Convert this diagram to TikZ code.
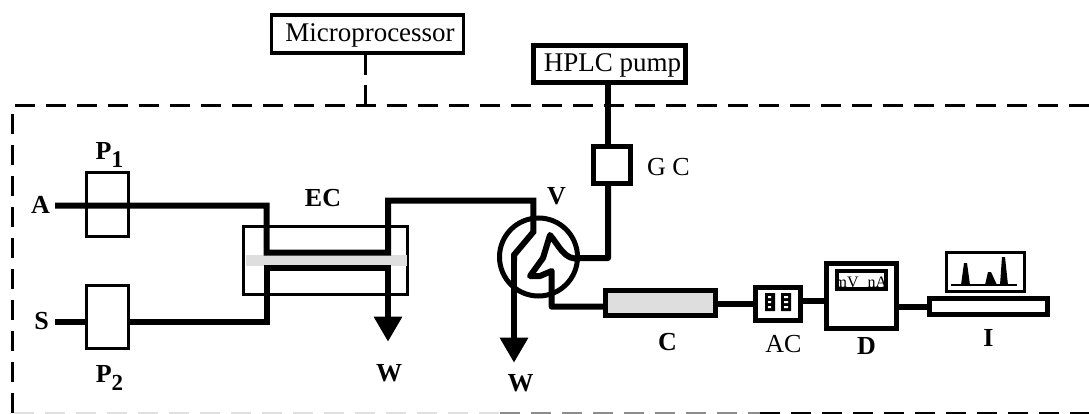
\documentclass[tikz,border=0pt]{standalone}
\usepackage{fontspec}
\setmainfont{Liberation Serif}
\usetikzlibrary{arrows.meta,positioning}

\begin{document}
\begin{tikzpicture}[x=1pt,y=-1pt,node distance = 4pt and 4pt,
    box/.style={rectangle,inner sep=0pt,draw=black,line width=3pt,fill=white},
    thickbox/.style={box,line width=5pt},
    pumpbox/.style={box,minimum width=42pt,minimum height=63pt},
    txt/.style={inner sep=0pt,font=\fontsize{26}{28}\selectfont},
    boxtxt/.style={font=\fontsize{27}{29}\selectfont,text height=20pt,text depth=4pt},
    lab/.style={inner sep=0pt,font=\fontsize{26}{28}\selectfont\bfseries},
    tube/.style={line width=6pt,line join=miter},
    sig/.style={line width=3pt,dash pattern=on 20pt off 11pt},
    drain/.style={line width=6pt,-{Triangle[width=27pt,length=25pt]}},
   ]
    \useasboundingbox (0,0) rectangle (1089,414);

    \node (micro) [box,boxtxt,line width=3.5pt,minimum width=192pt,minimum height=38pt] at (367.5,34) {\hspace*{5pt}Microprocessor};
    \node (hplc) [thickbox,boxtxt,minimum width=152pt,minimum height=37pt] at (609.5,64) {\hspace*{6pt}HPLC pump};
    \node (gc) [thickbox,minimum width=37pt,minimum height=37pt] at (612,165) {};
    \node (gclab) [txt,anchor=west] at (647,167) {G C};

    \coordinate (frame_tr) at (1089,105.5);
    \coordinate (frame_tl) at (12.7,105.5);
    \coordinate (frame_bl) at (12.7,414);
    \coordinate (frame_link) at (365,105.5);
    \coordinate (bottom_a) at (14,413.5);
    \coordinate (bottom_b) at (500,413.5);
    \coordinate (bottom_c) at (760,413.5);
    \coordinate (bottom_d) at (1089,413.5);
    \draw[sig] (frame_tr) -- (frame_tl) -- (frame_bl);
    \draw[sig,black!12] (bottom_a) -- (bottom_b);
    \draw[sig,black!45] (bottom_b) -- (bottom_c);
    \draw[sig] (bottom_c) -- (bottom_d);
    \draw[sig,dash pattern=on 20pt off 10pt] (micro.south -| frame_link) -- (frame_link);

    \node (p1) [pumpbox] at (107.5,204.5) {};
    \node (p2) [pumpbox] at (107.5,316.5) {};
    \node (p1lab) [lab,above=of p1,xshift=2pt] {P\raisebox{-8pt}{\fontsize{24}{26}\selectfont 1}};
    \node (p2lab) [lab,below=16pt of p2,xshift=2pt] {P\raisebox{-8pt}{\fontsize{23}{25}\selectfont 2}};

    \node (a) [lab,anchor=east] at (50,205) {A};
    \node (s) [lab,anchor=east] at (49,321) {S};
    \coordinate (a_out) at (55,205.7);
    \coordinate (s_out) at (55,321.7);

    \node (ec) [box,minimum width=164pt,minimum height=68pt] at (325.5,260.5) {};
    \fill[black!13] (246,255) rectangle (407,266);
    \node (eclab) [lab,above=18pt of ec,xshift=-2.5pt] {EC};

    \coordinate (ec_tl) at (266.7,252.7);
    \coordinate (ec_tr) at (388,252.7);
    \coordinate (ec_bl) at (266.7,267.7);
    \coordinate (ec_br) at (388,267.7);
    \coordinate (ec_w) at (388,341.7);
    \node (w1) [lab] at (389,373) {W};

    \node (valve) [circle,draw=black,line width=5pt,inner sep=0pt,minimum size=78pt] at (538.5,257) {};
    \node (vlab) [lab] at (556.5,196) {V};
    \coordinate (v_in) at (533.3,200.7);
    \coordinate (v_a) at (533.3,232);
    \coordinate (v_b) at (514,255);
    \coordinate (v_w) at (514,362.7);
    \node (w2) [lab] at (520.5,383) {W};

    \coordinate (v_right) at (580,258);
    \coordinate (gc_line) at (608,258);
    \coordinate (v_peak) at (550,235);
    \coordinate (v_mid) at (543,258);
    \coordinate (v_tip) at (530,276);
    \coordinate (v_tipb) at (540,276);
    \coordinate (v_peakb) at (551.7,271);
    \coordinate (v_low) at (551.7,306.7);

    \node (col) [thickbox,fill=black!13,minimum width=110pt,minimum height=25pt] at (660.5,303) {};
    \node (collab) [lab,below=15pt of col,xshift=7pt] {C};

    \node (ac) [thickbox,minimum width=45pt,minimum height=33pt] at (778,304) {};
    \fill[black] (765,293) rectangle (775,311) (781,293) rectangle (791,311);
    \fill[white] (768,296) rectangle (771,298) (768,301) rectangle (771,303) (768,306) rectangle (771,308);
    \fill[white] (784,296) rectangle (788,298) (784,301) rectangle (788,303) (784,306) rectangle (788,308);
    \node (aclab) [txt,below=12pt of ac,xshift=5.5pt] {AC};

    \node (det) [thickbox,minimum width=70pt,minimum height=65pt] at (861.5,296) {};
    \node (meter) [box,line width=4pt,minimum width=49pt,minimum height=18pt] at (861.5,280) {};
    \node (meterlab) [inner sep=0pt,anchor=base,font=\fontsize{16}{17}\selectfont] at (861,287) {mV\hspace{9pt}nA};
    \node (detlab) [lab,below=6pt of det,xshift=5pt] {D};

    \node (integ) [thickbox,minimum width=118pt,minimum height=16pt] at (988.5,306.5) {};
    \node (screen) [box,minimum width=78pt,minimum height=39pt] at (985.5,272) {};
    \node (integlab) [lab,below=12pt of integ] {I};
    \draw[line width=2.5pt] (951,285) -- (1017,285);
    \fill (961,285) -- (964,263) -- (967,263) -- (970,285) -- cycle;
    \fill (985,285) -- (988,272) -- (991,272) -- (997,285) -- cycle;
    \fill (1000,285) -- (1002,257) -- (1005,257) -- (1008,285) -- cycle;

    \draw[tube] (a_out) -- (ec_tl |- a_out) -- (ec_tl) -- (ec_tr) -- (ec_tr |- v_in) -- (v_in) -- (v_a) -- (v_b) -- ++(0,6);
    \draw[drain] (v_b) -- (v_w);
    \draw[tube] (s_out) -- (p2.west |- s_out);
    \draw[tube] (p2.east |- s_out) -- (ec_bl |- s_out) -- (ec_bl) -- (ec_br) -- ++(0,6);
    \draw[drain] (ec_br) -- (ec_w);

    \draw[tube] (hplc.south -| gc_line) -- (gc.north -| gc_line);
    \draw[tube,line join=round] (gc.south -| gc_line) -- (gc_line) -- (v_right) .. controls (565,262) and (558,244) .. (v_peak) -- (v_mid) -- (v_tip) -- (v_tipb) -- (v_peakb) -- (v_low) -- (col.west |- v_low);
    \draw[tube] (col.east |- ac) -- (ac.west);
    \draw[tube] (ac.east |- 0,301) -- (det.west |- 0,301);
    \draw[tube] (det.east |- integ) -- (integ.west);
   \end{tikzpicture}
\end{document}
